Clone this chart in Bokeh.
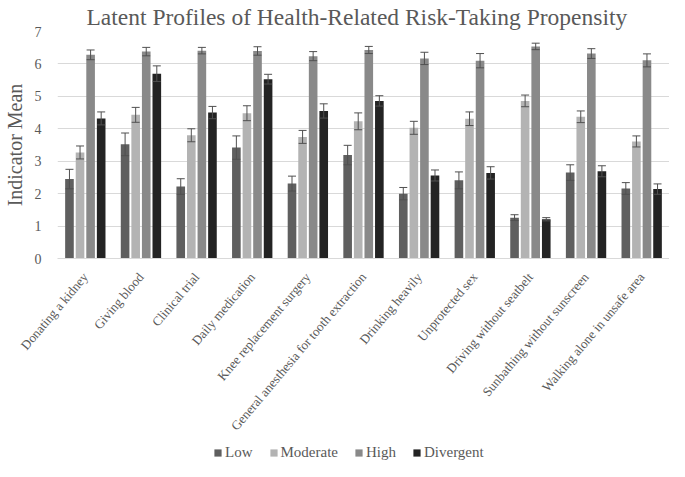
import math
from bokeh.plotting import figure
from bokeh.layouts import column
from bokeh.models import (ColumnDataSource, FactorRange, Range1d, Whisker, TeeHead,
                          Legend, LegendItem, FixedTicker)
from bokeh.transform import dodge
from bokeh.embed import file_html
from bokeh.resources import INLINE

categories = ["Donating a kidney", "Giving blood", "Clinical trial", "Daily medication",
              "Knee replacement surgery", "General anesthesia for tooth extraction",
              "Drinking heavily", "Unprotected sex", "Driving without seatbelt",
              "Sunbathing without sunscreen", "Walking alone in unsafe area"]

low = [2.45, 3.52, 2.22, 3.42, 2.31, 3.19, 2.00, 2.41, 1.26, 2.65, 2.16]
low_err = [0.30, 0.35, 0.24, 0.36, 0.23, 0.30, 0.19, 0.26, 0.09, 0.24, 0.18]
moderate = [3.27, 4.43, 3.80, 4.48, 3.75, 4.23, 4.03, 4.31, 4.86, 4.37, 3.61]
moderate_err = [0.20, 0.23, 0.20, 0.23, 0.20, 0.26, 0.20, 0.21, 0.18, 0.18, 0.17]
high = [6.28, 6.38, 6.41, 6.40, 6.24, 6.43, 6.17, 6.10, 6.54, 6.32, 6.11]
high_err = [0.15, 0.13, 0.10, 0.13, 0.14, 0.11, 0.19, 0.22, 0.10, 0.15, 0.20]
divergent = [4.32, 5.70, 4.50, 5.53, 4.55, 4.86, 2.56, 2.64, 1.21, 2.69, 2.14]
divergent_err = [0.20, 0.24, 0.19, 0.15, 0.22, 0.16, 0.17, 0.19, 0.05, 0.17, 0.16]

series_names = ["Low", "Moderate", "High", "Divergent"]
series_values = [low, moderate, high, divergent]
series_errors = [low_err, moderate_err, high_err, divergent_err]
y_ticks = [0, 1, 2, 3, 4, 5, 6, 7]

colors = ["#5f5f5f", "#b3b3b3", "#898989", "#232323"]
offsets = [-0.285, -0.095, 0.095, 0.285]
FONT = "Liberation Serif"
TXT = "#595959"

data = {"cat": categories}
for name, vals, errs in zip(series_names, series_values, series_errors):
    data[name] = vals
    data[name + "_up"] = [v + e for v, e in zip(vals, errs)]
    data[name + "_lo"] = [v - e for v, e in zip(vals, errs)]
src = ColumnDataSource(data)

p = figure(width=669, height=441, x_range=FactorRange(*categories), y_range=Range1d(0, 7),
           output_backend="svg", toolbar_location=None,
           min_border_left=47, min_border_right=0, min_border_top=31, min_border_bottom=183)

p.title.text = "Latent Profiles of Health-Related Risk-Taking Propensity"
p.title.text_font = FONT
p.title.text_font_size = "23.5px"
p.title.text_font_style = "normal"
p.title.text_color = TXT
p.title.align = "left"
p.title.offset = 29
p.title.standoff = 3

p.outline_line_color = None
p.xgrid.grid_line_color = None
p.ygrid.grid_line_color = "#d9d9d9"
p.ygrid.grid_line_width = 1

p.yaxis.ticker = FixedTicker(ticks=y_ticks)
p.yaxis.axis_line_color = None
p.yaxis.major_tick_line_color = None
p.yaxis.minor_tick_line_color = None
p.yaxis.major_label_text_font = FONT
p.yaxis.major_label_text_font_size = "14px"
p.yaxis.major_label_text_color = TXT
p.yaxis.major_label_standoff = 10
p.yaxis.axis_label = "Indicator Mean"
p.yaxis.axis_label_text_font = FONT
p.yaxis.axis_label_text_font_size = "20px"
p.yaxis.axis_label_text_font_style = "normal"
p.yaxis.axis_label_text_color = TXT
p.yaxis.axis_label_standoff = 6

p.xaxis.axis_line_color = "#d9d9d9"
p.xaxis.major_tick_line_color = None
p.xaxis.minor_tick_line_color = None
p.xaxis.major_label_orientation = 0.87
p.xaxis.major_label_text_font = FONT
p.xaxis.major_label_text_font_size = "13px"
p.xaxis.major_label_text_color = TXT
p.xaxis.major_label_standoff = 10

for name, col, off in zip(series_names, colors, offsets):
    p.vbar(x=dodge("cat", off, range=p.x_range), top=name, width=0.155, bottom=0,
           source=src, fill_color=col, line_color=None)
    w = Whisker(base=dodge("cat", off, range=p.x_range), upper=name + "_up", lower=name + "_lo",
                source=src, line_color="#505050", line_width=1,
                upper_head=TeeHead(size=8, line_color="#505050", line_width=1),
                lower_head=TeeHead(size=8, line_color="#505050", line_width=1),
                level="overlay")
    p.add_layout(w)

# legend strip below the chart (same series, drawn outside its visible range)
p2 = figure(width=669, height=20, x_range=FactorRange(*categories), y_range=Range1d(100, 101),
            output_backend="svg", toolbar_location=None, min_border=0,
            x_axis_type=None, y_axis_type=None)
p2.outline_line_color = None
p2.xgrid.grid_line_color = None
p2.ygrid.grid_line_color = None
items = []
for name, col, off in zip(series_names, colors, offsets):
    r = p2.vbar(x=dodge("cat", off, range=p2.x_range), top=name, width=0.155, bottom=0,
                source=src, fill_color=col, line_color=None)
    items.append(LegendItem(label=name, renderers=[r]))
legend = Legend(items=items, orientation="horizontal", location=(156, 0),
                label_text_font=FONT, label_text_font_size="15px", label_text_color=TXT,
                glyph_width=9, glyph_height=9, label_standoff=3, spacing=16,
                border_line_color=None, background_fill_alpha=0, padding=2, margin=0,
                label_height=16)
p2.add_layout(legend)

layout = column(p, p2, spacing=0)
open("out.html", "w").write(file_html(layout, INLINE))
